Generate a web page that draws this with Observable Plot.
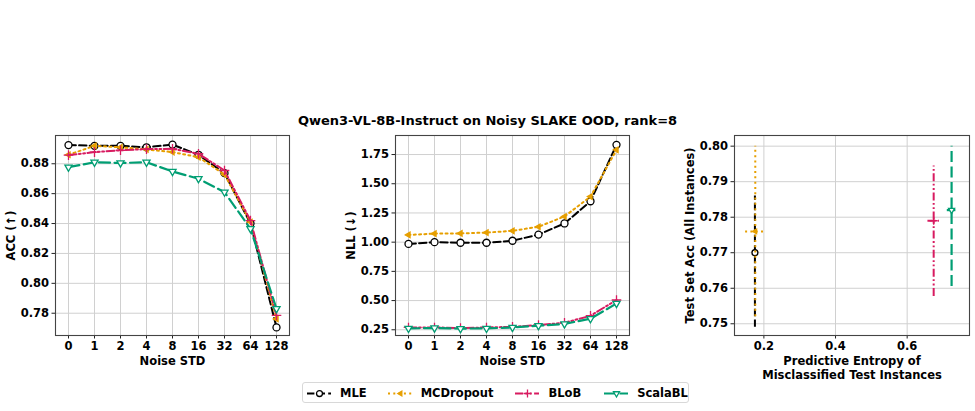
<!DOCTYPE html>
<html>
<head>
<meta charset="utf-8">
<script src="https://cdn.jsdelivr.net/npm/d3@7"></script>
<script src="https://cdn.jsdelivr.net/npm/@observablehq/plot@0.6"></script>
<style>
  body { margin: 0; background: #fff; font-family: "DejaVu Sans", sans-serif; }
  #fig { position: relative; width: 975px; height: 411px; overflow: hidden; background: #fff; }
  .panel { position: absolute; top: 100px; }
  #title { position: absolute; top: 113px; left: 0; width: 975px; text-align: center;
           font-weight: bold; font-size: 13px; line-height: 16px; }
  #legend { position: absolute; left: 302px; top: 382px; width: 387px; height: 21px;
            border: 1px solid #d8d8d8; border-radius: 3px; box-sizing: border-box;
            display: flex; align-items: center; font-weight: bold; font-size: 11.5px; }
  .item { display: flex; align-items: center; }
  .item svg { display: block; }
</style>
</head>
<body>
<div id="fig"></div>
<script>
// Noise levels on the x axis of the first two panels
const noiseStd = ["0", "1", "2", "4", "8", "16", "32", "64", "128"];
const methods = ["MLE", "MCDropout", "BLoB", "ScalaBL"];

// Accuracy per noise level
const accMLE       = [0.8925, 0.8920, 0.8920, 0.8910, 0.8928, 0.8860, 0.8737, 0.8400, 0.7705];
const accMCDropout = [0.8860, 0.8920, 0.8910, 0.8896, 0.8878, 0.8844, 0.8728, 0.8410, 0.7762];
const accBLoB      = [0.8858, 0.8878, 0.8890, 0.8898, 0.8900, 0.8867, 0.8755, 0.8420, 0.7785];
const accScalaBL   = [0.8777, 0.8810, 0.8805, 0.8810, 0.8748, 0.8700, 0.8610, 0.8365, 0.7830];

// Negative log-likelihood per noise level
const nllMLE       = [0.985, 1.000, 0.995, 0.995, 1.012, 1.065, 1.160, 1.350, 1.833];
const nllMCDropout = [1.062, 1.073, 1.075, 1.082, 1.097, 1.132, 1.220, 1.390, 1.790];
const nllBLoB      = [0.270, 0.270, 0.265, 0.270, 0.275, 0.290, 0.310, 0.370, 0.505];
const nllScalaBL   = [0.262, 0.265, 0.260, 0.262, 0.270, 0.285, 0.300, 0.345, 0.475];

// Entropy of misclassified instances vs. test accuracy (at noise 128)
const entropyMean  = [0.175, 0.176, 0.674, 0.724];
const entropyErr   = [0.006, 0.027, 0.016, 0.012];
const testAccMean  = [0.770, 0.776, 0.779, 0.782];
const testAccLow   = [0.749, 0.752, 0.7577, 0.7605];
const testAccHigh  = [0.786, 0.800, 0.7944, 0.800];

const accTicks = [0.78, 0.80, 0.82, 0.84, 0.86, 0.88];
const nllTicks = [0.25, 0.50, 0.75, 1.00, 1.25, 1.50, 1.75];
const entTicks = [0.2, 0.4, 0.6];
const testAccTicks = [0.75, 0.76, 0.77, 0.78, 0.79, 0.80];

// custom marker shapes
const triDown = { draw(ctx, size) { const r = Math.sqrt(size / Math.PI) * 1.25;
  ctx.moveTo(0, r); ctx.lineTo(-r * 0.866, -r * 0.5); ctx.lineTo(r * 0.866, -r * 0.5); ctx.closePath(); } };
const triLeft = { draw(ctx, size) { const r = Math.sqrt(size / Math.PI) * 1.25;
  ctx.moveTo(-r, 0); ctx.lineTo(r * 0.5, -r * 0.866); ctx.lineTo(r * 0.5, r * 0.866); ctx.closePath(); } };

const styles = {
  MLE:       { color: "#000000", dash: "7.4,3.2", symbol: "circle", fill: "white", r: 3.5, width: 2 },
  MCDropout: { color: "#E69F00", dash: "2,3.3", symbol: triLeft, fill: "#E69F00", r: 2.5, width: 2 },
  BLoB:      { color: "#D81B60", dash: "8,2.5,1.8,2.5,1.8,2.5", symbol: "plus", fill: "none", r: 3.2, width: 2 },
  ScalaBL:   { color: "#009E73", dash: "11,4.5", symbol: triDown, fill: "white", r: 3.3, width: 2.2 }
};

const accSeries = { MLE: accMLE, MCDropout: accMCDropout, BLoB: accBLoB, ScalaBL: accScalaBL };
const nllSeries = { MLE: nllMLE, MCDropout: nllMCDropout, BLoB: nllBLoB, ScalaBL: nllScalaBL };

const FONT = { fontFamily: "'DejaVu Sans', sans-serif", fontSize: "11.5px", fontWeight: "bold",
               background: "transparent", color: "#000", overflow: "visible" };

function seriesMarks(seriesMap) {
  const marks = [];
  for (const m of methods) {
    const s = styles[m];
    const rows = noiseStd.map((n, i) => ({ noise: n, v: seriesMap[m][i] }));
    marks.push(Plot.line(rows, { x: "noise", y: "v", stroke: s.color, strokeWidth: s.width,
      strokeDasharray: s.dash, strokeLinejoin: "round" }));
    marks.push(Plot.dot(rows, { x: "noise", y: "v", symbol: s.symbol, r: s.r, stroke: s.color,
      fill: s.fill, strokeWidth: 1.3 }));
  }
  return marks;
}

function axisLabels(xLabels, yLabel) {
  const marks = [
    Plot.text([yLabel], { frameAnchor: "left", textAnchor: "middle", lineAnchor: "middle",
      rotate: -90, dx: -44, fontSize: 11.5, fontWeight: "bold" })
  ];
  xLabels.forEach((t, i) => marks.push(
    Plot.text([t], { frameAnchor: "bottom", textAnchor: "middle", lineAnchor: "middle",
      dy: 26 + i * 13.5, fontSize: 11.5, fontWeight: "bold" })));
  return marks;
}

function linePanel(seriesMap, yDomain, yTicks, yLabel, width, ml, mr) {
  return Plot.plot({
    width, height: 270, marginTop: 35, marginBottom: 35, marginLeft: ml, marginRight: mr,
    style: FONT,
    x: { type: "point", domain: noiseStd, padding: 0.4, label: null },
    y: { domain: yDomain, label: null },
    marks: [
      Plot.gridX(noiseStd, { stroke: "#d0d0d0", strokeOpacity: 1 }),
      Plot.gridY(yTicks, { stroke: "#d0d0d0", strokeOpacity: 1 }),
      Plot.axisX({ tickSize: 3.5, tickPadding: 3, stroke: "#222" }),
      Plot.axisY(yTicks, { tickSize: 3.5, tickPadding: 3, tickFormat: d3.format(".2f"), stroke: "#222" }),
      ...seriesMarks(seriesMap),
      Plot.frame({ stroke: "#444", strokeWidth: 1.1 }),
      ...axisLabels(["Noise STD"], yLabel)
    ]
  });
}

function entropyPanel() {
  const marks = [
    Plot.gridX(entTicks, { stroke: "#d0d0d0", strokeOpacity: 1 }),
    Plot.gridY(testAccTicks, { stroke: "#d0d0d0", strokeOpacity: 1 }),
    Plot.axisX(entTicks, { tickSize: 3.5, tickPadding: 3, tickFormat: d3.format(".1f"), stroke: "#222" }),
    Plot.axisY(testAccTicks, { tickSize: 3.5, tickPadding: 3, tickFormat: d3.format(".2f"), stroke: "#222" })
  ];
  methods.forEach((m, i) => {
    const s = styles[m];
    const row = [{ x: entropyMean[i], y: testAccMean[i], xlo: entropyMean[i] - entropyErr[i],
                   xhi: entropyMean[i] + entropyErr[i], ylo: testAccLow[i], yhi: testAccHigh[i] }];
    marks.push(Plot.ruleX(row, { x: "x", y1: "ylo", y2: "yhi", stroke: s.color, strokeWidth: s.width,
      strokeDasharray: s.dash }));
    marks.push(Plot.ruleY(row, { y: "y", x1: "xlo", x2: "xhi", stroke: s.color, strokeWidth: s.width,
      strokeDasharray: m === "ScalaBL" ? null : s.dash }));
    marks.push(Plot.dot(row, { x: "x", y: "y", symbol: s.symbol, r: s.r * 0.85, stroke: s.color,
      fill: s.fill, strokeWidth: 1.3 }));
  });
  marks.push(Plot.frame({ stroke: "#444", strokeWidth: 1.1 }));
  marks.push(...axisLabels(["Predictive Entropy of", "Misclassified Test Instances"], "Test Set Acc (All Instances)"));
  return Plot.plot({
    width: 325, height: 270, marginTop: 35, marginBottom: 35, marginLeft: 84, marginRight: 6,
    style: FONT,
    x: { domain: [0.118, 0.774], label: null },
    y: { domain: [0.7467, 0.803], label: null },
    marks
  });
}

const fig = document.getElementById("fig");
function place(node, left) { node.classList.add("panel"); node.style.left = left + "px"; fig.appendChild(node); }

place(linePanel(accSeries, [0.7651, 0.8989], accTicks, "ACC (↑)", 330, 55, 41), 0);
place(linePanel(nllSeries, [0.201, 1.913], nllTicks, "NLL (↓)", 320, 65, 21), 330);
place(entropyPanel(), 650);

const title = document.createElement("div");
title.id = "title";
title.textContent = "Qwen3-VL-8B-Instruct on Noisy SLAKE OOD, rank=8";
fig.appendChild(title);

// legend
const legend = document.createElement("div");
legend.id = "legend";
const gaps = [4, 21, 22, 23];
methods.forEach((m, i) => {
  const s = styles[m];
  const item = document.createElement("div");
  item.className = "item";
  item.style.marginLeft = gaps[i] + "px";
  const sample = Plot.plot({
    width: 24, height: 14, margin: 0, style: { background: "transparent", overflow: "visible" },
    x: { domain: [0, 1], axis: null }, y: { domain: [0, 1], axis: null },
    marks: [
      Plot.ruleY([0.5], { x1: 0, x2: 1, stroke: s.color, strokeWidth: s.width, strokeDasharray: s.dash }),
      Plot.dot([[0.5, 0.5]], { symbol: s.symbol, r: s.r * 0.85, stroke: s.color, fill: s.fill, strokeWidth: 1.3 })
    ]
  });
  const label = document.createElement("span");
  label.textContent = m;
  label.style.marginLeft = "9px";
  item.appendChild(sample);
  item.appendChild(label);
  legend.appendChild(item);
});
fig.appendChild(legend);
</script>
</body>
</html>
